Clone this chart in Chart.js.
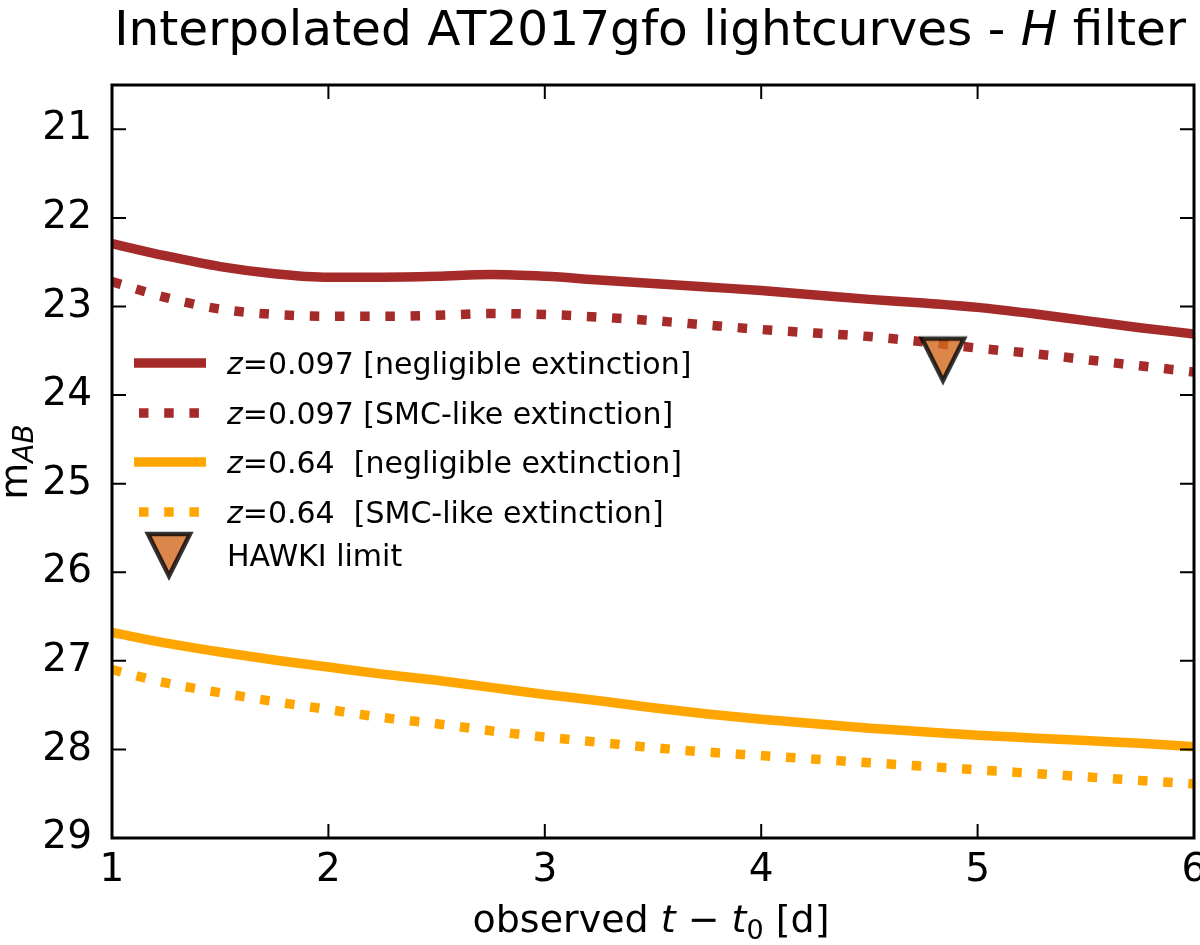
<!DOCTYPE html>
<html><head><meta charset="utf-8">
<script src="https://cdn.jsdelivr.net/npm/chart.js@4.4.1/dist/chart.umd.min.js"></script>
<style>html,body{margin:0;padding:0;background:#fff;}canvas{display:block;}</style>
</head><body>
<canvas id="c" width="1200" height="945"></canvas>
<script>
// ---- data ----
const tDays   = [1.0,1.25,1.5,1.75,2.0,2.25,2.5,2.75,3.0,3.25,3.5,3.75,4.0,4.25,4.5,4.75,5.0,5.25,5.5,5.75,6.0];
const redNeg  = [22.29,22.43,22.55,22.63,22.67,22.67,22.66,22.64,22.66,22.70,22.74,22.78,22.82,22.87,22.92,22.96,23.01,23.08,23.16,23.24,23.31];
const redSmc  = [22.72,22.90,23.03,23.09,23.11,23.11,23.10,23.08,23.09,23.12,23.16,23.21,23.26,23.30,23.34,23.40,23.47,23.53,23.60,23.67,23.74];
const orNeg   = [26.68,26.80,26.90,26.99,27.07,27.15,27.22,27.30,27.38,27.45,27.53,27.60,27.66,27.71,27.76,27.80,27.84,27.87,27.90,27.93,27.97];
const orSmc   = [27.10,27.25,27.36,27.46,27.55,27.64,27.71,27.79,27.86,27.92,27.98,28.03,28.07,28.11,28.15,28.19,28.23,28.27,28.31,28.35,28.39];
const hawkiT   = [4.84];
const hawkiMag = [23.60];
const xTicks = [1,2,3,4,5,6];
const yTicks = [21,22,23,24,25,26,27,28,29];
const seriesLabels = ['=0.097 [negligible extinction]','=0.097 [SMC-like extinction]','=0.64  [negligible extinction]','=0.64  [SMC-like extinction]'];
const hawkiLabel = 'HAWKI limit';

const RED = '#a52a2a', ORANGE = '#ffa500';
const FF = "'DejaVu Sans'";
const LW = 9.5, DOT = [9.5, 15.7];

// triangle-down marker image
const tri = document.createElement('canvas');
tri.width = 60; tri.height = 60;
(function(){
  const g = tri.getContext('2d');
  g.beginPath(); g.moveTo(9,9); g.lineTo(51,9); g.lineTo(30,51); g.closePath();
  g.fillStyle = 'rgba(210,105,30,0.8)'; g.fill();
  g.lineJoin = 'miter'; g.lineWidth = 4.5; g.strokeStyle = 'rgba(0,0,0,0.8)'; g.stroke();
})();

const pts = arr => tDays.map((t,i)=>({x:t, y:arr[i]}));

function drawRuns(ctx, runs, x, y, align){
  const widths = runs.map(r=>{ ctx.font = (r.italic?'italic ':'') + r.size + 'px ' + FF; return ctx.measureText(r.t).width; });
  const total = widths.reduce((a,b)=>a+b,0);
  let cx = align==='center' ? x - total/2 : x;
  ctx.textAlign = 'left'; ctx.textBaseline = 'alphabetic';
  runs.forEach((r,i)=>{ ctx.font = (r.italic?'italic ':'') + r.size + 'px ' + FF; ctx.fillText(r.t, cx, y + (r.dy||0)); cx += widths[i]; });
}

const deco = {
  id: 'deco',
  afterDatasetsDraw(chart){
    const ctx = chart.ctx;
    ctx.save();
    const ys = [363, 413, 462, 512];
    chart.data.datasets.slice(0,4).forEach((ds,i)=>{
      ctx.beginPath();
      ctx.lineWidth = ds.borderWidth; ctx.strokeStyle = ds.borderColor; ctx.lineCap = 'butt';
      ctx.setLineDash(ds.borderDash || []);
      ctx.moveTo(ds.borderDash ? 139 : 134, ys[i]); ctx.lineTo(206, ys[i]); ctx.stroke();
      ctx.setLineDash([]);
      ctx.fillStyle = '#000';
      drawRuns(ctx, [{t:'z', italic:true, size:30},{t:seriesLabels[i], size:30}], 227, ys[i]+11, 'left');
    });
    ctx.drawImage(tri, 169-30, 555-30);
    ctx.fillStyle = '#000';
    drawRuns(ctx, [{t:hawkiLabel, size:30}], 227, 555+11, 'left');
    ctx.restore();
  },
  afterDraw(chart){
    const ctx = chart.ctx, a = chart.chartArea;
    const xs = chart.scales.x, yS = chart.scales.y;
    ctx.save();
    ctx.strokeStyle = '#000';
    ctx.lineWidth = 2;
    const TL = 14;
    ctx.beginPath();
    xTicks.forEach(v=>{ const p = xs.getPixelForValue(v);
      ctx.moveTo(p, a.bottom); ctx.lineTo(p, a.bottom-TL);
      ctx.moveTo(p, a.top); ctx.lineTo(p, a.top+TL); });
    yTicks.forEach(v=>{ const p = yS.getPixelForValue(v);
      ctx.moveTo(a.left, p); ctx.lineTo(a.left+TL, p);
      ctx.moveTo(a.right, p); ctx.lineTo(a.right-TL, p); });
    ctx.stroke();
    ctx.lineWidth = 3;
    ctx.strokeRect(a.left, a.top, a.right-a.left, a.bottom-a.top);
    ctx.fillStyle = '#000';
    // title
    drawRuns(ctx, [{t:'Interpolated AT2017gfo lightcurves - ', size:48.6},{t:'H', italic:true, size:48.6},{t:' filter', size:48.6}], 650, 45, 'center');
    // x label
    drawRuns(ctx, [{t:'observed ', size:38},{t:'t', italic:true, size:38},{t:' \u2212 ', size:38},{t:'t', italic:true, size:38},{t:'0', size:27, dy:7},{t:' [d]', size:38}], 651, 932, 'center');
    // y label
    ctx.translate(27, 462); ctx.rotate(-Math.PI/2);
    drawRuns(ctx, [{t:'m', size:38},{t:'AB', italic:true, size:28, dy:6}], 0, 0, 'center');
    ctx.restore();
  }
};

new Chart(document.getElementById('c'), {
  type: 'line',
  data: {
    datasets: [
      {label:'z=0.097 negl', data: pts(redNeg), borderColor: RED, borderWidth: LW, order: 1},
      {label:'z=0.097 SMC', data: pts(redSmc), borderColor: RED, borderWidth: LW, borderDash: DOT, order: 1},
      {label:'z=0.64 negl', data: pts(orNeg), borderColor: ORANGE, borderWidth: LW, order: 1},
      {label:'z=0.64 SMC', data: pts(orSmc), borderColor: ORANGE, borderWidth: LW, borderDash: DOT, order: 1},
      {type:'scatter', label: hawkiLabel, data: hawkiT.map((t,i)=>({x:t, y:hawkiMag[i]})), pointStyle: tri, pointRadius: 20, showLine: false, order: 0}
    ]
  },
  options: {
    responsive: false, animation: false, devicePixelRatio: 1,
    layout: { autoPadding: false, padding: { top: 85, right: 6, left: 0, bottom: 0 } },
    elements: { point: { radius: 0 }, line: { cubicInterpolationMode: 'monotone', borderCapStyle: 'butt', fill: false } },
    plugins: { legend: { display: false }, tooltip: { enabled: false }, title: { display: false } },
    scales: {
      x: {
        type: 'linear', position: 'bottom', min: 1, max: 6,
        grid: { display: false, drawTicks: false }, border: { display: false },
        afterBuildTicks: s => { s.ticks = xTicks.map(v=>({value:v})); },
        afterFit: s => { s.height = 107; s.paddingLeft = 0; s.paddingRight = 0; },
        ticks: { color: '#000', font: { family: FF, size: 39 }, padding: 9, maxRotation: 0, autoSkip: false }
      },
      y: {
        type: 'linear', reverse: true, min: 20.5, max: 29,
        grid: { display: false, drawTicks: false }, border: { display: false },
        afterBuildTicks: s => { s.ticks = yTicks.map(v=>({value:v})); },
        afterFit: s => { s.width = 112; s.paddingTop = 0; s.paddingBottom = 0; },
        ticks: { color: '#000', font: { family: FF, size: 39 }, padding: 20, autoSkip: false }
      }
    }
  },
  plugins: [deco]
});
</script>
</body></html>
